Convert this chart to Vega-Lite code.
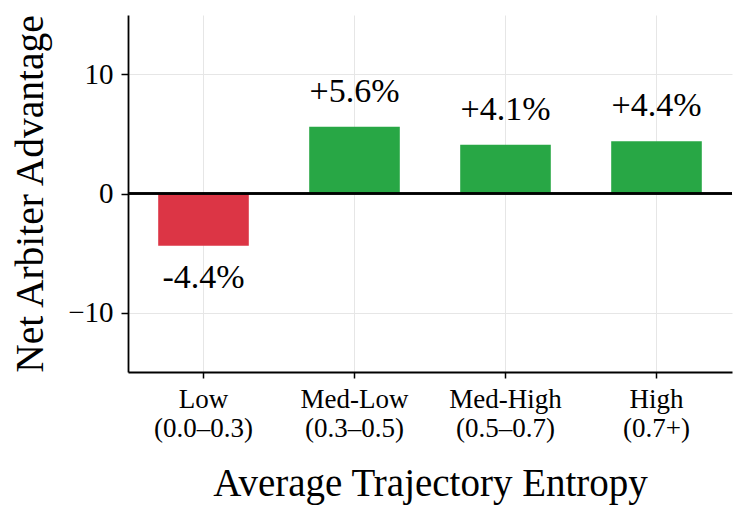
{
  "$schema": "https://vega.github.io/schema/vega-lite/v6.json",
  "width": 604,
  "height": 357,
  "autosize": {"type": "none"},
  "padding": {"left": 128, "top": 15, "right": 14, "bottom": 147},
  "background": "white",
  "config": {
    "view": {"stroke": null},
    "font": "Liberation Serif",
    "text": {"font": "Liberation Serif"},
    "axis": {
      "domainColor": "black",
      "domainWidth": 1.8,
      "tickColor": "black",
      "tickWidth": 1.5,
      "gridColor": "#e6e6e6",
      "gridWidth": 1,
      "labelColor": "black",
      "titleColor": "black",
      "labelFont": "Liberation Serif",
      "titleFont": "Liberation Serif",
      "titleFontWeight": "normal"
    }
  },
  "data": {
    "values": [
      {"cat": "Low|(0.0–0.3)", "value": -4.4, "label": "-4.4%", "sign": "neg"},
      {"cat": "Med-Low|(0.3–0.5)", "value": 5.6, "label": "+5.6%", "sign": "pos"},
      {"cat": "Med-High|(0.5–0.7)", "value": 4.1, "label": "+4.1%", "sign": "pos"},
      {"cat": "High|(0.7+)", "value": 4.4, "label": "+4.4%", "sign": "pos"}
    ]
  },
  "layer": [
    {
      "mark": {"type": "bar"},
      "encoding": {
        "x": {
          "field": "cat",
          "type": "nominal",
          "sort": null,
          "scale": {"paddingInner": 0.4, "paddingOuter": 0.2},
          "axis": {
            "title": "Average Trajectory Entropy",
            "titleFont": "Liberation Serif",
            "titleFontSize": 39,
            "titleY": 123,
            "titleBaseline": "alphabetic",
            "labelFont": "Liberation Serif",
            "labelExpr": "split(datum.label, '|')",
            "labelFontSize": 27,
            "labelLineHeight": 29,
            "labelPadding": 8,
            "labelAngle": 0,
            "tickSize": 6,
            "bandPosition": 0.5,
            "grid": true
          }
        },
        "y": {
          "field": "value",
          "type": "quantitative",
          "scale": {"domain": [-15, 15], "nice": false},
          "axis": {
            "title": "Net Arbiter Advantage",
            "titleFont": "Liberation Serif",
            "titleFontSize": 39.5,
            "titleX": -86,
            "titleY": 178.5,
            "titleBaseline": "alphabetic",
            "values": [-10, 0, 10],
            "labelFont": "Liberation Serif",
            "labelFontSize": 29,
            "labelPadding": 8,
            "tickSize": 7,
            "grid": true
          }
        },
        "color": {
          "field": "sign",
          "type": "nominal",
          "scale": {"domain": ["neg", "pos"], "range": ["#dc3545", "#28a745"]},
          "legend": null
        }
      }
    },
    {
      "mark": {"type": "rule", "color": "black", "strokeWidth": 1.8},
      "encoding": {"y": {"datum": 0}}
    },
    {
      "transform": [{"filter": "datum.value > 0"}],
      "mark": {"type": "text", "font": "Liberation Serif", "baseline": "alphabetic", "align": "center", "dy": -25, "fontSize": 34, "color": "black"},
      "encoding": {
        "x": {"field": "cat", "type": "nominal", "sort": null},
        "y": {"field": "value", "type": "quantitative"},
        "text": {"field": "label"}
      }
    },
    {
      "transform": [{"filter": "datum.value < 0"}],
      "mark": {"type": "text", "font": "Liberation Serif", "baseline": "alphabetic", "align": "center", "dy": 42, "fontSize": 34, "color": "black"},
      "encoding": {
        "x": {"field": "cat", "type": "nominal", "sort": null},
        "y": {"field": "value", "type": "quantitative"},
        "text": {"field": "label"}
      }
    }
  ]
}
